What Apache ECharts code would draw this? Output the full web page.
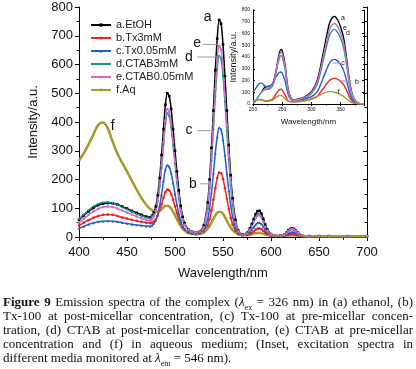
<!DOCTYPE html>
<html>
<head>
<meta charset="utf-8">
<script src="https://cdn.jsdelivr.net/npm/echarts@6/dist/echarts.min.js"></script>
<style>
  html, body { margin: 0; padding: 0; background: #fff; }
  #chart { position: absolute; left: 0; top: 0; width: 416px; height: 369px; }
  #cap {
    position: absolute; left: 3px; top: 295px; width: 410px;
    font-family: "Liberation Serif", serif; font-size: 13px; color: #111;
  }
  #cap .ln { height: 14px; line-height: 14px; text-align: justify; text-align-last: justify; white-space: nowrap; }
  #cap .ln.last { text-align: left; text-align-last: left; }
  #cap sub { font-size: 8px; line-height: 0; }
</style>
</head>
<body>
<div id="chart"></div>
<div id="cap">
  <div class="ln"><b>Figure 9</b> Emission spectra of the complex (<i>λ</i><sub>ex</sub> = 326 nm) in (a) ethanol, (b)</div>
  <div class="ln">Tx-100 at post-micellar concentration, (c) Tx-100 at pre-micellar concen-</div>
  <div class="ln">tration, (d) CTAB at post-micellar concentration, (e) CTAB at pre-micellar</div>
  <div class="ln">concentration and (f) in aqueous medium; (Inset, excitation spectra in</div>
  <div class="ln last">different media monitored at <i>λ</i><sub>em</sub> = 546 nm).</div>
</div>
<script>
// emission spectra (main plot)
var wavelength = [
  400, 405, 410, 415, 420, 425, 430, 435, 440, 445, 450, 455, 460, 465, 470, 474,
  476, 478, 480, 482, 484, 486, 488, 490, 492, 494, 496, 498, 500, 502, 504, 506, 508, 510,
  514, 518, 522, 526, 530,
  534, 536, 538, 540, 542, 544, 546, 548, 550, 552, 554, 556, 558, 560,
  563, 566, 570, 575,
  578, 580, 582, 584, 586, 588, 590, 592, 594, 596,
  600, 605, 610,
  614, 616, 618, 620, 622, 624, 626, 628,
  632, 640, 650, 660, 680, 700
];
var etoh = [
  60, 75, 89, 101, 111, 116, 118, 117, 113, 106, 99, 91, 84, 77, 71, 68,
  74, 86, 106, 145, 205, 285, 375, 460, 500, 490, 445, 375, 300, 228, 162, 108, 70, 48,
  26, 18, 16, 20, 40,
  120, 200, 310, 440, 580, 690, 755, 742, 670, 560, 440, 320, 215, 135,
  60, 22, 9, 14,
  30, 45, 62, 79, 90, 91, 81, 63, 43, 27,
  10, 4, 5,
  8, 15, 23, 28, 30, 28, 22, 15,
  6, 3, 3, 3, 3, 3
];
var tx3 = [
  40, 50, 59, 67, 73, 77, 78, 77, 73, 68, 64, 60, 56, 53, 50, 48,
  50, 54, 62, 75, 92, 113, 137, 156, 165, 162, 150, 130, 106, 83, 62, 45, 33, 25,
  16, 12, 11, 12, 18,
  40, 62, 92, 130, 170, 205, 224, 222, 202, 170, 133, 98, 67, 44,
  22, 10, 5, 6,
  10, 14, 19, 25, 29, 30, 27, 21, 15, 10,
  5, 3, 3,
  4, 6, 8, 10, 11, 10, 8, 6,
  3, 2, 2, 2, 2, 2
];
var tx005 = [
  30, 37, 44, 49, 53, 55, 56, 55, 53, 50, 47, 44, 42, 40, 38, 37,
  40, 47, 58, 78, 108, 148, 195, 235, 250, 244, 222, 188, 150, 112, 80, 55, 38, 28,
  17, 12, 11, 13, 22,
  60, 100, 155, 222, 292, 348, 380, 374, 338, 284, 222, 162, 110, 70,
  32, 13, 6, 9,
  17, 25, 34, 43, 49, 50, 45, 35, 24, 15,
  6, 3, 4,
  5, 8, 12, 15, 17, 16, 13, 9,
  4, 2, 2, 2, 2, 2
];
var ctab3 = [
  62, 78, 93, 106, 115, 120, 121, 118, 112, 104, 96, 88, 80, 74, 68, 66,
  72, 80, 95, 125, 175, 240, 320, 395, 430, 420, 380, 320, 255, 190, 135, 90, 60, 42,
  24, 17, 15, 18, 33,
  100, 170, 265, 375, 490, 585, 630, 620, 560, 470, 370, 270, 180, 112,
  50, 20, 8, 12,
  26, 40, 55, 70, 80, 80, 71, 55, 37, 23,
  9, 4, 5,
  7, 13, 20, 25, 27, 25, 20, 13,
  6, 3, 3, 3, 3, 3
];
var ctab005 = [
  50, 63, 77, 89, 98, 104, 106, 104, 99, 92, 85, 78, 71, 65, 60, 57,
  62, 72, 90, 125, 180, 250, 330, 405, 445, 435, 392, 330, 262, 196, 140, 93, 62, 43,
  25, 18, 16, 19, 35,
  105, 178, 278, 395, 515, 615, 665, 652, 590, 495, 390, 284, 190, 118,
  52, 21, 8, 12,
  25, 38, 52, 66, 75, 76, 67, 52, 35, 22,
  9, 4, 5,
  7, 13, 20, 26, 28, 26, 21, 14,
  6, 3, 3, 3, 3, 3
];
var aq = [
  265, 292, 322, 357, 390, 398, 378, 332, 290, 258, 228, 196, 165, 136, 112, 98,
  94, 90, 88, 89, 92, 97, 103, 108, 109, 106, 99, 88, 75, 62, 49, 38, 29, 22,
  14, 11, 10, 11, 16,
  28, 38, 50, 63, 75, 84, 88, 87, 81, 70, 57, 44, 33, 24,
  15, 10, 8, 8,
  9, 10, 12, 13, 14, 14, 13, 11, 9, 7,
  5, 4, 4,
  4, 5, 5, 6, 6, 6, 5, 5,
  4, 3, 3, 3, 3, 3
];

// excitation spectra (inset)
var exWavelength = [200, 205, 210, 215, 220, 225, 230, 235, 240, 245, 248, 250, 255, 260, 265, 270,
  280, 290, 300, 310, 320, 330, 335, 340, 345, 350, 355, 360, 365, 370, 375, 380, 390];
var exEtoh = [null, null, null, 105, 140, 150, 155, 190, 300, 430, 465, 455, 330, 130, 50, 35,
  45, 65, 105, 200, 430, 670, 730, 745, 715, 655, 565, 400, 200, 80, 30, 8, 0];
var exTx3 = [20, 30, 38, 35, 28, 28, 32, 50, 90, 122, 125, 118, 75, 30, 18, 18,
  22, 30, 42, 65, 130, 195, 213, 218, 210, 192, 165, 118, 60, 24, 9, 2, 0];
var exTx005 = [100, 135, 170, 178, 155, 148, 155, 185, 235, 268, 272, 262, 195, 85, 35, 28,
  35, 45, 62, 105, 220, 340, 372, 380, 365, 335, 288, 205, 102, 41, 15, 4, 0];
var exCtab3 = [5, 30, 70, 105, 122, 125, 135, 170, 280, 390, 412, 405, 295, 110, 42, 30,
  40, 56, 90, 170, 365, 570, 620, 635, 608, 557, 480, 340, 170, 68, 26, 7, 0];
var exCtab005 = [null, null, null, 95, 125, 135, 145, 180, 290, 410, 440, 430, 315, 120, 45, 32,
  42, 60, 97, 185, 395, 615, 670, 685, 658, 603, 520, 368, 184, 74, 28, 7, 0];
var exAq = [25, 35, 38, 32, 26, 24, 28, 38, 58, 72, 73, 68, 45, 24, 18, 18,
  20, 30, 45, 65, 90, 105, 105, 100, 92, 80, 65, 45, 25, 10, 4, 1, 0];

var names = ["a.EtOH", "b.Tx3mM", "c.Tx0.05mM", "d.CTAB3mM", "e.CTAB0.05mM", "f.Aq"];
var colors = ["#000000", "#f52020", "#1f5fd2", "#17998a", "#cc6ccc", "#a39b2b"];
var symbols = ["rect", "circle", "triangle", "diamond", "circle", "circle"];

var FONT = "Liberation Sans";
var myChart = echarts.init(document.getElementById("chart"));

function pairs(xs, ys) {
  return xs.map(function (x, i) { return [x, ys[i]]; });
}

var mainData = [etoh, tx3, tx005, ctab3, ctab005, aq];
var insetData = [exEtoh, exTx3, exTx005, exCtab3, exCtab005, exAq];

var series = [];
mainData.forEach(function (d, i) {
  var isAq = i === 5;
  series.push({
    type: "line",
    name: names[i],
    xAxisIndex: 0,
    yAxisIndex: 0,
    data: pairs(wavelength, d),
    smooth: 0.3,
    symbol: symbols[i],
    symbolSize: 2.6,
    showSymbol: !isAq,
    lineStyle: { color: colors[i], width: isAq ? 2.5 : 1.5 },
    itemStyle: { color: colors[i] },
    silent: true,
  });
});
insetData.forEach(function (d, i) {
  series.push({
    type: "line",
    name: "inset " + names[i],
    xAxisIndex: 2,
    yAxisIndex: 2,
    data: pairs(exWavelength, d),
    smooth: 0.3,
    symbol: "none",
    lineStyle: { color: colors[i], width: 1.4 },
    itemStyle: { color: colors[i] },
    silent: true,
  });
});

var frameLine = { show: true, lineStyle: { color: "#000", width: 1 } };

var option = {
  animation: false,
  backgroundColor: "#fff",
  textStyle: { fontFamily: FONT },
  legend: {
    data: names,
    orient: "vertical",
    left: 85,
    top: 14,
    itemWidth: 20,
    itemHeight: 4,
    itemGap: 1,
    selectedMode: false,
    textStyle: { fontSize: 11, lineHeight: 12, color: "#222", fontFamily: FONT },
  },
  grid: [
    { left: 79, top: 7, right: 49, bottom: 132 },
    { left: 253, top: 10, width: 111, height: 94 },
  ],
  xAxis: [
    {
      type: "value", gridIndex: 0, min: 400, max: 700, interval: 50,
      name: "Wavelength/nm", nameLocation: "middle", nameGap: 30,
      nameTextStyle: { fontSize: 13, color: "#111", fontFamily: FONT },
      axisLine: frameLine,
      axisTick: { show: true, length: 4, lineStyle: { color: "#000" } },
      minorTick: { show: true, splitNumber: 2, length: 2.5, lineStyle: { color: "#000" } },
      splitLine: { show: false },
      axisLabel: { fontSize: 13, color: "#111", margin: 9, fontFamily: FONT },
    },
    {
      type: "value", gridIndex: 0, position: "top", min: 400, max: 700, interval: 50,
      axisLine: frameLine,
      axisTick: { show: true, inside: true, length: 4, lineStyle: { color: "#000" } },
      minorTick: { show: true, splitNumber: 2, length: 2.5, lineStyle: { color: "#000" } },
      splitLine: { show: false },
      axisLabel: { show: false },
    },
    {
      type: "value", gridIndex: 1, min: 200, max: 390, interval: 50,
      name: "Wavelength/nm", nameLocation: "middle", nameGap: 14,
      nameTextStyle: { fontSize: 8, color: "#111", fontFamily: FONT },
      axisLine: frameLine,
      axisTick: { show: true, inside: true, length: 2, lineStyle: { color: "#000" } },
      splitLine: { show: false },
      axisLabel: { fontSize: 5, color: "#111", margin: 3, showMaxLabel: false, fontFamily: FONT },
    },
    {
      type: "value", gridIndex: 1, position: "top", min: 200, max: 390, interval: 50,
      axisLine: frameLine,
      axisTick: { show: true, inside: true, length: 2, lineStyle: { color: "#000" } },
      minorTick: { show: true, splitNumber: 2, length: 1.5, lineStyle: { color: "#000" } },
      splitLine: { show: false },
      axisLabel: { show: false },
    },
  ],
  yAxis: [
    {
      type: "value", gridIndex: 0, min: 0, max: 800, interval: 100,
      name: "Intensity/a.u.", nameLocation: "middle", nameGap: 35,
      nameTextStyle: { fontSize: 13, color: "#111", fontFamily: FONT },
      axisLine: frameLine,
      axisTick: { show: true, length: 4, lineStyle: { color: "#000" } },
      minorTick: { show: true, splitNumber: 2, length: 2.5, lineStyle: { color: "#000" } },
      splitLine: { show: false },
      axisLabel: { fontSize: 13, color: "#111", margin: 6, fontFamily: FONT },
    },
    {
      type: "value", gridIndex: 0, position: "right", min: 0, max: 800, interval: 100,
      axisLine: frameLine,
      axisTick: { show: true, inside: true, length: 4, lineStyle: { color: "#000" } },
      minorTick: { show: true, splitNumber: 2, length: 2.5, lineStyle: { color: "#000" } },
      splitLine: { show: false },
      axisLabel: { show: false },
    },
    {
      type: "value", gridIndex: 1, min: 0, max: 800, interval: 100,
      name: "Intensity/a.u.", nameLocation: "middle", nameGap: 12,
      nameTextStyle: { fontSize: 9, color: "#111", fontFamily: FONT },
      axisLine: frameLine,
      axisTick: { show: true, inside: true, length: 2, lineStyle: { color: "#000" } },
      splitLine: { show: false },
      axisLabel: { fontSize: 5, color: "#111", margin: 3, fontFamily: FONT },
    },
    {
      type: "value", gridIndex: 1, position: "right", min: 0, max: 800, interval: 100,
      axisLine: frameLine,
      axisTick: { show: true, inside: true, length: 2, lineStyle: { color: "#000" } },
      splitLine: { show: false },
      axisLabel: { show: false },
    },
  ],
  series: series,
};

myChart.setOption(option);

// curve labels with leader lines, placed in data space
var mainLabels = [
  { t: "a", at: [534, 764] },
  { t: "e", at: [523, 673], from: [529, 670], to: [544, 670] },
  { t: "d", at: [514.6, 626], from: [523, 626], to: [544, 626] },
  { t: "c", at: [514.6, 373], from: [523, 370], to: [537, 370] },
  { t: "b", at: [518.7, 185], from: [526, 185], to: [537, 185] },
  { t: "f", at: [435, 387] },
];
var insetLabels = [
  { t: "a", at: [354, 732] },
  { t: "e", at: [357.5, 647] },
  { t: "d", at: [362.6, 604] },
  { t: "c", at: [354, 349], from: [337, 349], to: [349, 349] },
  { t: "b", at: [378, 187], from: [349, 196], to: [369, 196] },
  { t: "f", at: [346.6, 102] },
];

function buildLabels(list, xi, yi, size) {
  var out = [];
  list.forEach(function (l) {
    var p = myChart.convertToPixel({ xAxisIndex: xi, yAxisIndex: yi }, l.at);
    if (l.from) {
      var a = myChart.convertToPixel({ xAxisIndex: xi, yAxisIndex: yi }, l.from);
      var b = myChart.convertToPixel({ xAxisIndex: xi, yAxisIndex: yi }, l.to);
      out.push({
        type: "line", silent: true, z: 10,
        shape: { x1: a[0], y1: a[1], x2: b[0], y2: b[1] },
        style: { stroke: "#9a9a9a", lineWidth: 1 },
      });
    }
    out.push({
      type: "text", silent: true, z: 11, x: p[0], y: p[1],
      style: { text: l.t, fontSize: size, fontFamily: FONT, fill: "#111", align: "center", verticalAlign: "middle" },
    });
  });
  return out;
}

myChart.setOption({
  graphic: buildLabels(mainLabels, 0, 0, 14).concat(buildLabels(insetLabels, 2, 2, 7)),
});
</script>
</body>
</html>
